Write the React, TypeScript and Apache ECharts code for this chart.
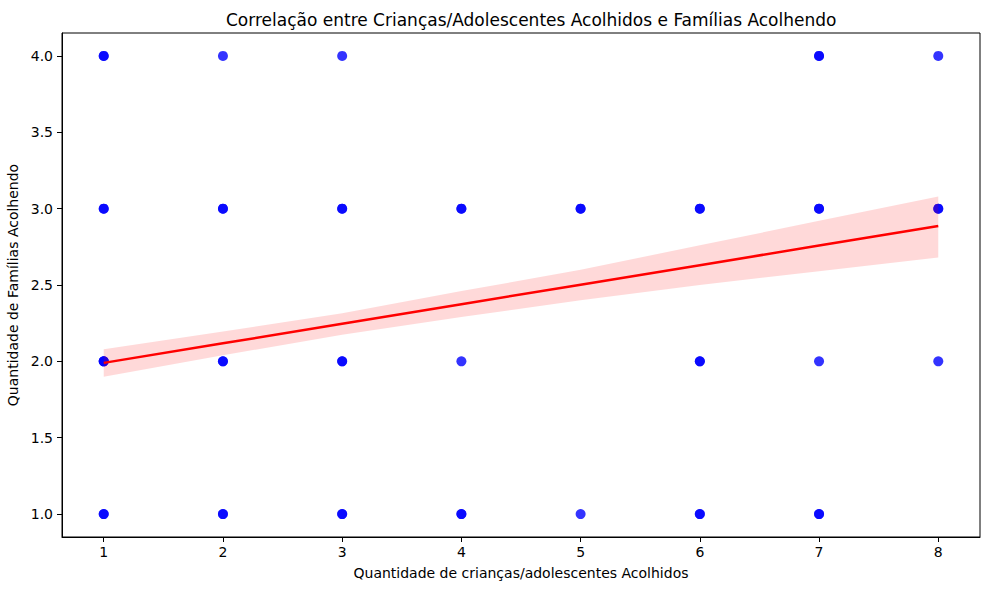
import React, { useEffect, useRef } from "react";
import * as echarts from "echarts";

// Scatter points (x = crianças/adolescentes, y = famílias); repeated entries = overlapping points
const pointsX = [1, 1, 1, 1, 1, 1, 1, 1, 1, 2, 2, 2, 2, 2, 2, 2, 3, 3, 3, 3, 3, 3, 3, 4, 4, 4, 4, 4, 5, 5, 5, 6, 6, 6, 6, 6, 6, 7, 7, 7, 7, 7, 7, 7, 8, 8, 8, 8];
const pointsY = [4, 4, 3, 3, 2, 2, 2, 1, 1, 4, 3, 3, 2, 2, 1, 1, 4, 3, 3, 2, 2, 1, 1, 3, 3, 2, 1, 1, 3, 3, 1, 3, 3, 2, 2, 1, 1, 4, 4, 3, 3, 2, 1, 1, 4, 3, 3, 2];

// Regression line and confidence band
const bandX = [1, 2, 3, 4, 5, 6, 7, 8];
const fitY = [1.99, 2.118, 2.246, 2.374, 2.502, 2.63, 2.758, 2.886];
const bandLower = [1.90, 2.04, 2.175, 2.29, 2.40, 2.50, 2.59, 2.68];
const bandUpper = [2.08, 2.195, 2.315, 2.46, 2.60, 2.76, 2.92, 3.08];

const xTicks = [1, 2, 3, 4, 5, 6, 7, 8];
const yTicks = [1.0, 1.5, 2.0, 2.5, 3.0, 3.5, 4.0];

const FONT = "DejaVu Sans";

export default function App() {
  const ref = useRef<HTMLDivElement>(null);
  useEffect(() => {
    if (!ref.current) return;
    const chart = echarts.init(ref.current, null, { renderer: "svg" });
    const scatterData = pointsX.map((x, i) => [x, pointsY[i]]);
    chart.setOption({
      animation: false,
      backgroundColor: "#ffffff",
      title: {
        text: "Correlação entre Crianças/Adolescentes Acolhidos e Famílias Acolhendo",
        left: 221,
        top: 6,
        textStyle: { fontFamily: FONT, fontSize: 17, fontWeight: "normal", color: "#000" },
      },
      grid: {
        left: 62,
        right: 9,
        top: 33,
        bottom: 53,
        containLabel: false,
        outerBoundsMode: "none",
        show: true,
        borderColor: "#000",
        borderWidth: 1,
        backgroundColor: "transparent",
      },
      xAxis: {
        type: "value",
        min: 0.65,
        max: 8.35,
        name: "Quantidade de crianças/adolescentes Acolhidos",
        nameLocation: "middle",
        nameGap: 29,
        nameTextStyle: { fontFamily: FONT, fontSize: 14, color: "#000" },
        axisLine: { show: true, onZero: false, lineStyle: { color: "#000", width: 1 } },
        axisTick: { show: true, inside: false, length: 5, customValues: xTicks, lineStyle: { color: "#000" } },
        axisLabel: {
          customValues: xTicks,
          margin: 8,
          fontFamily: FONT,
          fontSize: 14,
          color: "#000",
          formatter: (v: number) => String(v),
        },
        splitLine: { show: false },
      },
      yAxis: {
        type: "value",
        min: 0.85,
        max: 4.15,
        name: "Quantidade de Famílias Acolhendo",
        nameLocation: "middle",
        nameGap: 42,
        nameRotate: 90,
        nameTextStyle: { fontFamily: FONT, fontSize: 14, color: "#000" },
        axisLine: { show: true, onZero: false, lineStyle: { color: "#000", width: 1 } },
        axisTick: { show: true, inside: false, length: 5, customValues: yTicks, lineStyle: { color: "#000" } },
        axisLabel: {
          customValues: yTicks,
          margin: 9,
          fontFamily: FONT,
          fontSize: 14,
          color: "#000",
          formatter: (v: number) => v.toFixed(1),
        },
        splitLine: { show: false },
      },
      series: [
        {
          type: "scatter",
          data: scatterData,
          symbolSize: 10,
          itemStyle: { color: "rgb(0,0,255)", opacity: 0.8 },
          z: 2,
        },
        {
          type: "custom",
          data: [0],
          z: 3,
          silent: true,
          renderItem: (_params: any, api: any) => {
            const pts: number[][] = [];
            for (let i = 0; i < bandX.length; i++) pts.push(api.coord([bandX[i], bandUpper[i]]));
            for (let i = bandX.length - 1; i >= 0; i--) pts.push(api.coord([bandX[i], bandLower[i]]));
            return {
              type: "polygon",
              shape: { points: pts },
              style: { fill: "rgba(255,0,0,0.15)", stroke: "none" },
            };
          },
        },
        {
          type: "line",
          data: bandX.map((x, i) => [x, fitY[i]]),
          symbol: "none",
          lineStyle: { color: "#ff0000", width: 2.5 },
          z: 4,
        },
      ],
    });
    return () => chart.dispose();
  }, []);
  return (
    <div
      ref={ref}
      style={{ position: "fixed", left: 0, top: 0, width: 989, height: 590 }}
    />
  );
}
